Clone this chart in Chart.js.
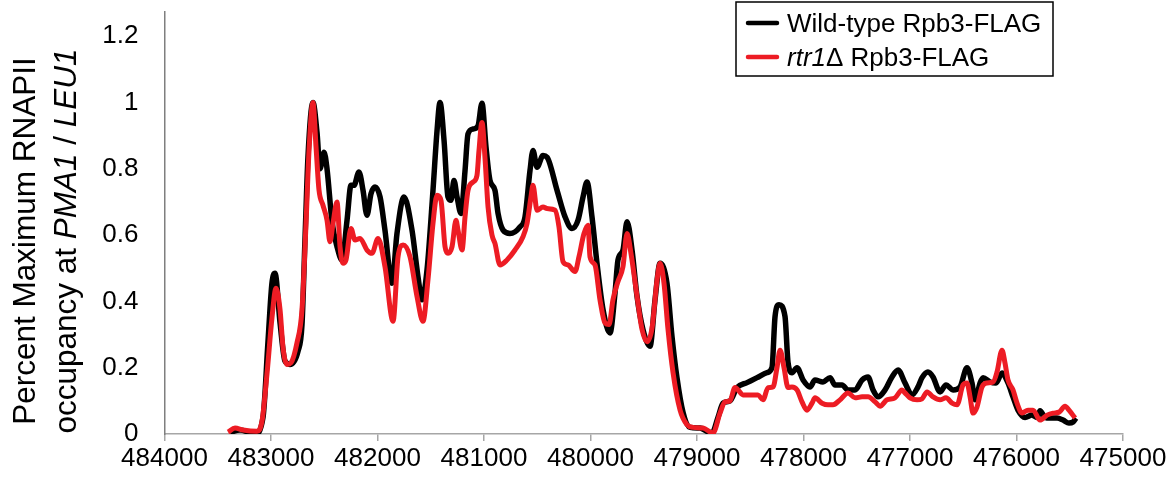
<!DOCTYPE html>
<html>
<head>
<meta charset="utf-8">
<script src="https://cdn.jsdelivr.net/npm/chart.js@4.4.1/dist/chart.umd.min.js"></script>
<style>
  html, body { margin: 0; padding: 0; background: #fff; }
  #wrap { position: relative; width: 1172px; height: 481px; }
</style>
</head>
<body>
<div id="wrap"><canvas id="c" width="1172" height="481"></canvas></div>
<script>
// ---- Data (genomic coordinate, percent maximum occupancy) ----
const wtPos = [
  483385,483291,483150,483075,483028,482991,482962,482915,482869,482822,
  482746,482709,482681,482653,482606,482568,482540,482502,482474,482427,
  482380,482333,482286,482249,482221,482174,482136,482099,482061,482023,
  481976,481930,481864,481817,481751,481676,481620,481582,481535,481479,
  481441,481413,481375,481338,481310,481282,481253,481216,481178,481150,
  481103,481056,481019,480981,480944,480897,480868,480821,480756,480662,
  480615,480568,480540,480502,480446,480408,480314,480239,480174,480117,
  480070,480033,479986,479939,479882,479817,479770,479742,479695,479657,
  479610,479563,479507,479441,479394,479347,479282,479235,479188,479131,
  479066,478972,478906,478859,478803,478756,478690,478624,478530,478436,
  478343,478296,478267,478230,478174,478145,478108,478061,478004,477939,
  477892,477817,477751,477704,477638,477582,477516,477450,477394,477347,
  477300,477234,477169,477112,477047,476981,476925,476887,476831,476784,
  476718,476662,476596,476530,476465,476418,476389,476342,476314,476249,
  476192,476136,476080,476033,475986,475920,475854,475807,475779,475732,
  475685,475619,475563,475507,475469,475441
];
const wtVal = [
  0.005,0.012,0,0.05,0.28,0.455,0.485,0.335,0.22,0.21,
  0.25,0.33,0.585,0.835,1.0,0.91,0.80,0.85,0.80,0.64,
  0.565,0.525,0.645,0.75,0.75,0.79,0.735,0.66,0.725,0.745,
  0.715,0.615,0.455,0.605,0.715,0.615,0.475,0.405,0.495,0.735,
  0.915,1.0,0.885,0.715,0.705,0.765,0.715,0.665,0.795,0.905,
  0.92,0.93,0.998,0.865,0.765,0.735,0.665,0.615,0.605,0.625,
  0.655,0.795,0.855,0.805,0.84,0.835,0.735,0.655,0.62,0.645,
  0.715,0.76,0.655,0.515,0.375,0.305,0.425,0.525,0.555,0.64,
  0.555,0.415,0.315,0.265,0.405,0.515,0.455,0.295,0.17,0.065,
  0.02,0.018,0.008,0.003,0.05,0.093,0.10,0.14,0.155,0.17,
  0.185,0.20,0.355,0.39,0.355,0.215,0.185,0.20,0.163,0.142,
  0.163,0.157,0.17,0.148,0.148,0.133,0.133,0.163,0.172,0.133,
  0.112,0.133,0.172,0.193,0.154,0.118,0.142,0.17,0.187,0.172,
  0.127,0.148,0.133,0.142,0.2,0.154,0.103,0.154,0.17,0.157,
  0.154,0.184,0.154,0.112,0.072,0.05,0.057,0.05,0.07,0.05,
  0.048,0.048,0.042,0.033,0.036,0.048
];
const rtrPos = [
  483404,483338,483263,483131,483084,483038,482991,482953,482915,482887,
  482850,482812,482756,482709,482671,482643,482606,482577,482549,482512,
  482474,482446,482418,482380,482352,482324,482296,482249,482211,482164,
  482099,482052,481995,481930,481854,481807,481760,481695,481629,481573,
  481526,481479,481441,481404,481366,481338,481300,481263,481244,481206,
  481178,481150,481103,481066,481047,481019,480991,480962,480925,480897,
  480850,480784,480709,480634,480596,480559,480540,480502,480446,480408,
  480333,480296,480258,480211,480145,480108,480061,480023,480005,479958,
  479911,479864,479826,479789,479742,479695,479657,479620,479563,479516,
  479469,479422,479375,479347,479310,479272,479225,479159,479094,479037,
  478943,478850,478784,478737,478690,478643,478615,478568,478483,478427,
  478380,478333,478286,478249,478220,478183,478145,478108,478061,478014,
  477967,477920,477892,477826,477770,477723,477657,477582,477516,477450,
  477394,477328,477281,477216,477141,477075,477047,477000,476934,476887,
  476840,476784,476718,476662,476605,476558,476502,476465,476436,476408,
  476371,476324,476277,476220,476183,476136,476108,476080,476033,475995,
  475948,475892,475845,475779,475713,475657,475600,475544,475507,475450
];
const rtrVal = [
  0.006,0.018,0.012,0.008,0.04,0.18,0.35,0.44,0.375,0.26,
  0.21,0.215,0.275,0.375,0.635,0.855,1.0,0.865,0.735,0.69,
  0.645,0.58,0.635,0.70,0.565,0.515,0.525,0.62,0.585,0.59,
  0.555,0.545,0.59,0.505,0.34,0.535,0.57,0.535,0.415,0.34,
  0.465,0.635,0.72,0.705,0.565,0.545,0.565,0.645,0.615,0.555,
  0.655,0.735,0.76,0.78,0.855,0.94,0.835,0.685,0.60,0.575,
  0.51,0.525,0.555,0.595,0.635,0.715,0.75,0.675,0.685,0.68,
  0.675,0.625,0.52,0.51,0.49,0.535,0.605,0.63,0.535,0.51,
  0.405,0.335,0.33,0.405,0.46,0.505,0.605,0.545,0.415,0.315,
  0.278,0.32,0.465,0.515,0.455,0.315,0.185,0.072,0.028,0.02,
  0.018,0.003,0.063,0.097,0.10,0.14,0.133,0.118,0.118,0.118,
  0.103,0.14,0.142,0.20,0.253,0.20,0.14,0.142,0.133,0.097,
  0.072,0.093,0.109,0.093,0.088,0.088,0.103,0.124,0.109,0.112,
  0.112,0.097,0.084,0.103,0.109,0.133,0.124,0.109,0.103,0.106,
  0.127,0.112,0.103,0.109,0.093,0.088,0.148,0.154,0.112,0.063,
  0.081,0.142,0.154,0.157,0.187,0.253,0.214,0.163,0.133,0.093,
  0.063,0.072,0.072,0.042,0.057,0.063,0.066,0.084,0.072,0.048
];
const xTickMin = 475000, xTickMax = 484000, xTickStep = 1000;
const yTickStep = 0.2;
const seriesNames = ['Wild-type Rpb3-FLAG', 'rtr1\u0394 Rpb3-FLAG'];

const FONT = '"Liberation Sans", Arial, sans-serif';
const BLACK = '#000000';
const RED = '#ED1C24';

function toPoints(xs, ys) {
  const n = Math.min(xs.length, ys.length);
  const out = [];
  for (let i = 0; i < n; i++) out.push({ x: xs[i], y: ys[i] });
  return out;
}

function drawSegments(ctx, segs, x, y, size, align) {
  const widths = segs.map(s => { ctx.font = (s[1] ? 'italic ' : '') + size + 'px ' + FONT; return ctx.measureText(s[0]).width; });
  const total = widths.reduce((a, b) => a + b, 0);
  let cx = align === 'center' ? x - total / 2 : x;
  segs.forEach((s, i) => {
    ctx.font = (s[1] ? 'italic ' : '') + size + 'px ' + FONT;
    ctx.fillText(s[0], cx, y);
    cx += widths[i];
  });
}

const decorPlugin = {
  id: 'decor',
  afterDraw(chart) {
    const ctx = chart.ctx;
    ctx.save();
    ctx.fillStyle = '#000';
    ctx.textBaseline = 'alphabetic';
    // Y axis title (two lines, rotated)
    const cy = 241;
    ctx.save();
    ctx.translate(35, cy);
    ctx.rotate(-Math.PI / 2);
    drawSegments(ctx, [['Percent Maximum RNAPII', false]], 0, 0, 31.5, 'center');
    ctx.restore();
    ctx.save();
    ctx.translate(76, cy);
    ctx.rotate(-Math.PI / 2);
    drawSegments(ctx, [['occupancy at ', false], ['PMA1', true], [' / ', false], ['LEU1', true]], 0, 0, 31.5, 'center');
    ctx.restore();

    // Legend box
    const lx = 736, ly = 2, lw = 317, lh = 74;
    ctx.fillStyle = '#fff';
    ctx.fillRect(lx, ly, lw, lh);
    ctx.strokeStyle = '#000';
    ctx.lineWidth = 1.5;
    ctx.strokeRect(lx, ly, lw, lh);
    const rows = [
      { color: BLACK, y: 23, segs: [['Wild-type Rpb3-FLAG', false]] },
      { color: RED, y: 57, segs: [['rtr1', true], ['\u0394 Rpb3-FLAG', false]] }
    ];
    rows.forEach(r => {
      ctx.strokeStyle = r.color;
      ctx.lineWidth = 4.5;
      ctx.lineCap = 'round';
      ctx.beginPath();
      ctx.moveTo(748, r.y);
      ctx.lineTo(777, r.y);
      ctx.stroke();
      ctx.fillStyle = '#000';
      drawSegments(ctx, r.segs, 787, r.y + 9, 26, 'left');
    });
    ctx.restore();
  }
};

new Chart(document.getElementById('c'), {
  type: 'line',
  data: {
    datasets: [
      {
        label: seriesNames[0],
        data: toPoints(wtPos, wtVal),
        borderColor: BLACK,
        borderWidth: 5.5,
        pointRadius: 0,
        fill: false,
        cubicInterpolationMode: 'monotone',
        order: 2
      },
      {
        label: seriesNames[1],
        data: toPoints(rtrPos, rtrVal),
        borderColor: RED,
        borderWidth: 5,
        pointRadius: 0,
        fill: false,
        cubicInterpolationMode: 'monotone',
        order: 1
      }
    ]
  },
  options: {
    responsive: false,
    animation: false,
    layout: { padding: { top: 12, right: 49, left: 0, bottom: 0 } },
    plugins: { legend: { display: false }, tooltip: { enabled: false } },
    scales: {
      x: {
        type: 'linear',
        reverse: true,
        min: xTickMin,
        max: xTickMax,
        ticks: {
          stepSize: xTickStep,
          autoSkip: false,
          maxRotation: 0,
          padding: 2,
          color: '#000',
          font: { family: FONT, size: 26 },
          callback: v => String(v)
        },
        grid: { display: true, drawOnChartArea: false, drawTicks: true, tickLength: 7, color: '#a6a6a6', lineWidth: 1.5 },
        border: { display: true, color: '#a6a6a6', width: 1.5 },
        afterFit: s => { s.height = 47; }
      },
      y: {
        type: 'linear',
        min: 0,
        max: 1.273,
        ticks: {
          stepSize: yTickStep,
          includeBounds: false,
          padding: 26,
          color: '#000',
          font: { family: FONT, size: 26 },
          callback: v => {
            const r = Math.round(v * 10) / 10;
            return Math.abs(r / 0.2 - Math.round(r / 0.2)) < 1e-6 ? String(r) : '';
          }
        },
        grid: { display: false, drawTicks: false },
        border: { display: true, color: '#7f7f7f', width: 1.5 },
        afterFit: s => { s.width = 164.5; s.paddingTop = 0; s.paddingBottom = 0; }
      }
    }
  },
  plugins: [decorPlugin]
});
</script>
</body>
</html>
